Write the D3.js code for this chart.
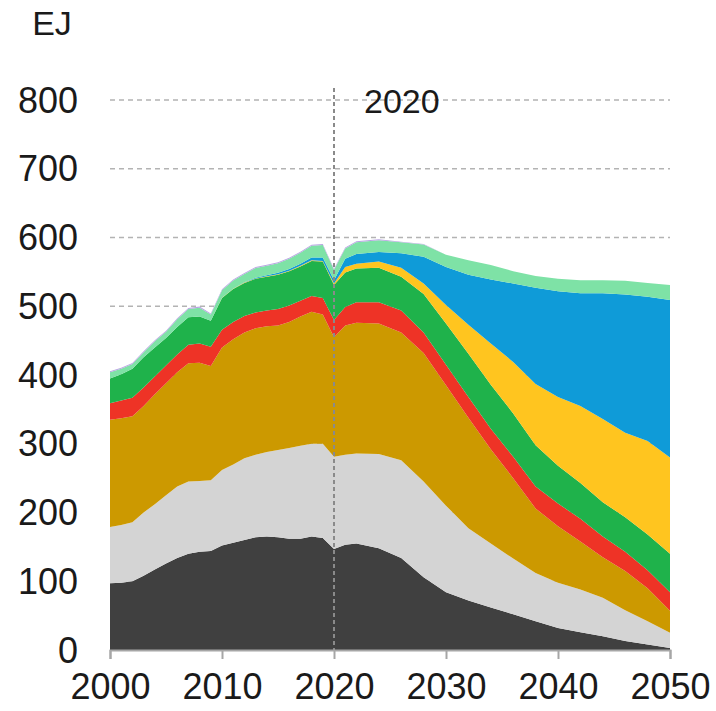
<!DOCTYPE html>
<html>
<head>
<meta charset="utf-8">
<script src="https://cdn.jsdelivr.net/npm/d3@7"></script>
<style>
  body { margin: 0; background: #fff; }
  text { font-family: "Liberation Sans", Arial, sans-serif; fill: #1a1a1a; }
</style>
</head>
<body>
<div id="chart"></div>
<script>
// data (EJ)
var years = [2000, 2001, 2002, 2003, 2004, 2005, 2006, 2007, 2008, 2009, 2010,
  2011, 2012, 2013, 2014, 2015, 2016, 2017, 2018, 2019, 2020, 2021,
  2022, 2024, 2026, 2028, 2030, 2032, 2034, 2036, 2038, 2040, 2042, 2044, 2046, 2048, 2050];

var coal = [97, 98, 100, 108, 117, 126, 134, 140, 143, 144, 152,
  156, 160, 164, 165, 164, 162, 162, 165, 163, 147, 153,
  155, 148, 134, 106, 84, 72, 62, 52, 42, 32, 26, 20, 13, 8, 3];
var gas = [82, 84, 86, 92, 95, 99, 104, 105, 103, 103, 110,
  114, 119, 120, 123, 127, 132, 135, 135, 137, 134, 131,
  131, 137, 142, 139, 126, 105, 93, 81, 70, 66, 62, 56, 45, 34, 22];
var oil = [156, 155, 154, 155, 160, 163, 166, 172, 172, 166, 178,
  182, 183, 184, 183, 181, 183, 188, 192, 188, 174, 188,
  190, 190, 186, 187, 175, 161, 137, 117, 94, 82, 70, 59, 57, 48, 32];
var nuclear = [24, 26, 27, 27, 26, 26, 26, 27, 28, 28, 26,
  25, 24, 23, 23, 24, 24, 23, 23, 24, 25, 27,
  30, 31, 32, 30, 30, 30, 30, 31, 32, 33, 33, 30, 28, 26, 27];
var hydroBio = [36, 38, 42, 44, 42, 40, 40, 40, 39, 38, 46,
  48, 48, 49, 49, 50, 50, 50, 51, 53, 51, 50,
  49, 50, 49, 56, 60, 63, 64, 63, 60, 55, 52, 50, 50, 52, 56];
var wind = [0, 0, 0, 0, 0, 0, 0, 0, 0, 0, 0.3,
  0.3, 0.4, 0.5, 0.5, 0.6, 0.7, 0.8, 0.9, 1, 2, 8,
  7, 9, 13, 15, 27, 42, 60, 75, 89, 100, 112, 121, 123, 136, 140];
var solar = [0, 0, 0, 0, 0, 0, 0, 0, 0, 0, 0,
  0, 0.5, 1, 1.5, 2, 2.5, 3, 4, 5, 5, 12,
  14, 14, 21, 39, 55, 73, 93, 114, 140, 154, 164, 183, 201, 210, 229];
var otherRen = [9, 8, 7, 7, 9, 9, 11, 12, 13, 9, 11,
  12, 12, 14, 14, 14, 15, 16, 17, 18, 15, 15,
  17, 17, 16, 18, 18, 21, 21, 18, 17, 18, 19, 19, 20, 20, 22];
var other = [1.5, 1.5, 1.5, 1.5, 1.5, 1.5, 1.5, 1.5, 1.5, 1.5, 1.5,
  1.5, 1.5, 1.5, 1.5, 1.5, 1.5, 1.5, 1.5, 1.5, 1.5, 1.5,
  1.5, 1.5, 1, 0.5, 0, 0, 0, 0, 0, 0, 0, 0, 0, 0, 0];

var yTicks = [0, 100, 200, 300, 400, 500, 600, 700, 800];
var xTicks = [2000, 2010, 2020, 2030, 2040, 2050];

var keys = ['coal', 'gas', 'oil', 'nuclear', 'hydroBio', 'wind', 'solar', 'otherRen', 'other'];
var colors = {
  coal: '#404040', gas: '#d4d4d4', oil: '#cc9900', nuclear: '#ee3326',
  hydroBio: '#1fb24b', wind: '#ffc51f', solar: '#0f9bd8', otherRen: '#7ee2a6', other: '#b8a5e2'
};

var rows = years.map(function(y, i) {
  return { year: y, coal: coal[i], gas: gas[i], oil: oil[i], nuclear: nuclear[i],
    hydroBio: hydroBio[i], wind: wind[i], solar: solar[i], otherRen: otherRen[i], other: other[i] };
});

var margin = { top: 100, right: 46, bottom: 61, left: 110 },
    width = 716 - margin.left - margin.right,
    height = 711 - margin.top - margin.bottom;

var svg = d3.select('#chart')
  .append('svg')
    .attr('width', 716)
    .attr('height', 711)
  .append('g')
    .attr('transform', 'translate(' + margin.left + ',' + margin.top + ')');

var x = d3.scaleLinear().domain([2000, 2050]).range([0, width]);
var y = d3.scaleLinear().domain([0, 800]).range([height, 0]);

// dashed gridlines
svg.append('g')
  .selectAll('line')
  .data(yTicks.filter(d => d > 0))
  .enter()
  .append('line')
    .attr('x1', 0)
    .attr('x2', width)
    .attr('y1', d => y(d))
    .attr('y2', d => y(d))
    .attr('stroke', '#b3b3b3')
    .attr('stroke-width', 1.5)
    .attr('stroke-dasharray', '5,4');

var stacked = d3.stack().keys(keys)(rows);

var area = d3.area()
  .x(d => x(d.data.year))
  .y0(d => y(d[0]))
  .y1(d => y(d[1]));

svg.append('g')
  .selectAll('path')
  .data(stacked)
  .enter()
  .append('path')
    .attr('d', area)
    .attr('fill', d => colors[d.key]);

// 2020 marker
svg.append('line')
  .attr('x1', x(2020))
  .attr('x2', x(2020))
  .attr('y1', -12)
  .attr('y2', height)
  .attr('stroke', '#8a8a8a')
  .attr('stroke-width', 2)
  .attr('stroke-dasharray', '4,3');

svg.append('text')
  .attr('x', x(2020) + 30)
  .attr('y', 13)
  .attr('font-size', '34px')
  .text('2020');

// x axis
var xAxis = svg.append('g')
  .attr('transform', 'translate(0,' + height + ')')
  .call(d3.axisBottom(x).tickValues(xTicks).tickFormat(d3.format('d')).tickSize(9).tickPadding(14));
xAxis.select('.domain').attr('stroke', '#a6a6a6').attr('stroke-width', 2);
xAxis.selectAll('.tick line').attr('stroke', '#a6a6a6').attr('stroke-width', 2);
xAxis.selectAll('.tick text')
  .attr('font-size', '36px')
  .attr('font-family', '"Liberation Sans", Arial, sans-serif')
  .attr('fill', '#1a1a1a');

// y labels
svg.append('g')
  .selectAll('text')
  .data(yTicks)
  .enter()
  .append('text')
    .attr('x', -32)
    .attr('y', d => y(d))
    .attr('dy', '0.35em')
    .attr('text-anchor', 'end')
    .attr('font-size', '36px')
    .text(d => d);

svg.append('text')
  .attr('x', -58)
  .attr('y', -65)
  .attr('text-anchor', 'middle')
  .attr('font-size', '34px')
  .text('EJ');
</script>
</body>
</html>
